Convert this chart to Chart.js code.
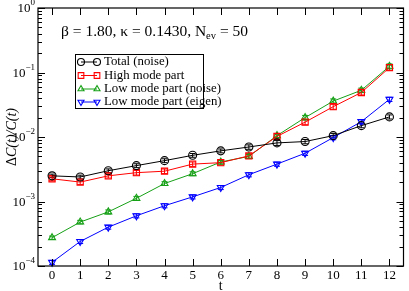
<!DOCTYPE html>
<html><head><meta charset="utf-8">
<script src="https://cdn.jsdelivr.net/npm/chart.js@4"></script>
<style>html,body{margin:0;padding:0;background:#fff}#wrap{width:409px;height:291px}</style>
</head><body><div id="wrap"><canvas id="c" width="409" height="291"></canvas></div>
<script>
const tValues = [0,1,2,3,4,5,6,7,8,9,10,11,12];
const xTickLabels = ['0','1','2','3','4','5','6','7','8','9','10','11','12'];
const yTickExponents = [0,-1,-2,-3,-4];
const seriesNames = ['Total (noise)','High mode part','Low mode part (noise)','Low mode part (eigen)'];
const totalNoise = [2.5e-3,2.4e-3,3.0e-3,3.6e-3,4.3e-3,5.2e-3,6.1e-3,7.0e-3,8.1e-3,8.5e-3,1.05e-2,1.5e-2,2.05e-2];
const totalNoiseErr = [1.6e-4,1.6e-4,2.0e-4,2.5e-4,3.0e-4,3.5e-4,4.2e-4,5.5e-4,7.0e-4,6.5e-4,8.0e-4,1.1e-3,1.5e-3];
const highMode = [2.25e-3,2.0e-3,2.5e-3,2.8e-3,2.95e-3,3.8e-3,4.0e-3,5.1e-3,1.02e-2,1.7e-2,2.95e-2,4.9e-2,0.119];
const highModeErr = [1.5e-4,1.6e-4,1.9e-4,2.3e-4,2.4e-4,3.0e-4,3.2e-4,4.2e-4,8.5e-4,1.5e-3,2.6e-3,4.2e-3,1.1e-2];
const lowNoise = [2.75e-4,4.8e-4,6.9e-4,1.12e-3,1.9e-3,2.7e-3,4.1e-3,5.0e-3,1.05e-2,2.0e-2,3.6e-2,5.3e-2,0.125];
const lowNoiseErr = [1.6e-5,3.0e-5,5.0e-5,8.0e-5,1.3e-4,1.9e-4,2.9e-4,3.6e-4,8.0e-4,1.6e-3,2.9e-3,4.3e-3,1.1e-2];
const lowEigen = [1.14e-4,2.4e-4,4.0e-4,6.0e-4,8.6e-4,1.18e-3,1.65e-3,2.6e-3,3.8e-3,5.6e-3,9.8e-3,1.73e-2,3.84e-2];
const lowEigenErr = [8e-6,1.7e-5,2.8e-5,4.3e-5,6.2e-5,8.5e-5,1.2e-4,1.9e-4,2.8e-4,4.2e-4,7.4e-4,1.3e-3,2.9e-3];

const colors = ['#000000','#ff0000','#16a016','#0000ff'];
const styles = ['circle','rect','triangle','triangle'];
const rotations = [0,0,0,180];
const values = [totalNoise, highMode, lowNoise, lowEigen];
const errs = [totalNoiseErr, highModeErr, lowNoiseErr, lowEigenErr];

const datasets = values.map((v,i)=>({
  label: seriesNames[i],
  data: tValues.map((t,j)=>({x:t,y:v[j]})),
  borderColor: colors[i],
  backgroundColor: 'rgba(0,0,0,0)',
  borderWidth: 1,
  pointStyle: styles[i],
  rotation: rotations[i],
  pointRadius: i===1 ? 4.4 : 4,
  pointBorderWidth: 1.1,
  pointBorderColor: colors[i],
  pointBackgroundColor: 'rgba(0,0,0,0)',
  tension: 0,
  clip: false
}));

function supText(ctx, base, sup, xRight, y, size){
  const supSize = Math.round(size*0.68);
  ctx.font = supSize+'px "Liberation Serif"';
  const ws = ctx.measureText(sup).width;
  ctx.font = size+'px "Liberation Serif"';
  const wb = ctx.measureText(base).width;
  ctx.textAlign='left'; ctx.textBaseline='middle';
  ctx.fillText(base, xRight-ws-wb, y);
  ctx.font = supSize+'px "Liberation Serif"';
  ctx.fillText(sup, xRight-ws, y-6);
}

function drawMarker(ctx, style, rot, x, y, r){
  Chart.helpers.drawPoint(ctx, {pointStyle: style, rotation: rot, radius: r, borderWidth: 1.1}, x, y);
}

const deco = {
  id:'deco',
  beforeDatasetsDraw(chart){
    const ctx = chart.ctx, xs = chart.scales.x, ys = chart.scales.y;
    ctx.save();
    values.forEach((v,i)=>{
      ctx.strokeStyle = colors[i]; ctx.lineWidth = 1;
      v.forEach((val,j)=>{
        const x = xs.getPixelForValue(tValues[j]);
        const y1 = ys.getPixelForValue(val+errs[i][j]);
        const y2 = ys.getPixelForValue(val-errs[i][j]);
        ctx.beginPath();
        ctx.moveTo(x,y1); ctx.lineTo(x,y2);
        ctx.moveTo(x-3,y1); ctx.lineTo(x+3,y1);
        ctx.moveTo(x-3,y2); ctx.lineTo(x+3,y2);
        ctx.stroke();
      });
    });
    ctx.restore();
  },
  afterDraw(chart){
    const ctx = chart.ctx, xs = chart.scales.x, ys = chart.scales.y, a = chart.chartArea;
    ctx.save();
    ctx.strokeStyle = '#000'; ctx.lineWidth = 1.2;
    ctx.strokeRect(a.left, a.top, a.right-a.left, a.bottom-a.top);
    ctx.lineWidth = 1;
    ctx.beginPath();
    tValues.forEach(t=>{
      const x = Math.round(xs.getPixelForValue(t))+0.5;
      ctx.moveTo(x,a.bottom); ctx.lineTo(x,a.bottom-7);
      ctx.moveTo(x,a.top); ctx.lineTo(x,a.top+7);
    });
    for(let e=-4;e<=0;e++){
      const y = Math.round(ys.getPixelForValue(Math.pow(10,e)))+0.5;
      ctx.moveTo(a.left,y); ctx.lineTo(a.left+7,y);
      ctx.moveTo(a.right,y); ctx.lineTo(a.right-7,y);
      if(e<0){
        for(let m=2;m<=9;m++){
          const ym = Math.round(ys.getPixelForValue(m*Math.pow(10,e)))+0.5;
          ctx.moveTo(a.left,ym); ctx.lineTo(a.left+4,ym);
          ctx.moveTo(a.right,ym); ctx.lineTo(a.right-4,ym);
        }
      }
    }
    ctx.stroke();
    ctx.fillStyle = '#000';
    ctx.font = '13px "Liberation Serif"';
    ctx.textAlign='center'; ctx.textBaseline='middle';
    tValues.forEach((t,i)=>{
      ctx.fillText(xTickLabels[i], xs.getPixelForValue(t), a.bottom+10);
    });
    yTickExponents.forEach(e=>{
      const y = ys.getPixelForValue(Math.pow(10,e));
      supText(ctx, '10', String(e).replace('-','\u2212'), a.left-3, y+1, 13);
    });
    ctx.font = '14px "Liberation Serif"';
    ctx.textAlign='center'; ctx.textBaseline='middle';
    ctx.fillText('t', (a.left+a.right)/2, a.bottom+20);
    ctx.save();
    ctx.translate(12, (a.top+a.bottom)/2);
    ctx.rotate(-Math.PI/2);
    const p1 = '\u0394', p2 = 'C(t)/C(t)';
    ctx.font = '14px "Liberation Serif"'; const w1 = ctx.measureText(p1).width;
    ctx.font = 'italic 14px "Liberation Serif"'; const w2 = ctx.measureText(p2).width;
    ctx.textAlign='left';
    ctx.font = '14px "Liberation Serif"'; ctx.fillText(p1, -(w1+w2)/2, 0);
    ctx.font = 'italic 14px "Liberation Serif"'; ctx.fillText(p2, -(w1+w2)/2+w1, 0);
    ctx.restore();
    ctx.textAlign='left'; ctx.textBaseline='alphabetic';
    ctx.font = '15.5px "Liberation Serif"';
    let tx = 61; const ty = 36;
    const s1 = '\u03b2 = 1.80, \u03ba = 0.1430, N';
    ctx.fillText(s1, tx, ty); tx += ctx.measureText(s1).width;
    ctx.font = '10.5px "Liberation Serif"';
    ctx.fillText('ev', tx, ty+3); tx += ctx.measureText('ev').width;
    ctx.font = '15.5px "Liberation Serif"';
    ctx.fillText(' = 50', tx, ty);
    ctx.fillStyle='#fff';
    ctx.fillRect(75.5,54.5,128,54);
    ctx.strokeStyle='#000'; ctx.lineWidth=1;
    ctx.strokeRect(75.5,54.5,128,54);
    const rowsY = [62,75.5,89,102];
    seriesNames.forEach((n,i)=>{
      const y = rowsY[i];
      ctx.strokeStyle = colors[i]; ctx.lineWidth=1;
      ctx.beginPath(); ctx.moveTo(81,y); ctx.lineTo(97,y); ctx.stroke();
      ctx.fillStyle='rgba(0,0,0,0)';
      ctx.lineWidth=1.1;
      const r = i===1?4:3.5;
      drawMarker(ctx, styles[i], rotations[i], 81, y, r);
      drawMarker(ctx, styles[i], rotations[i], 97, y, r);
      ctx.fillStyle='#000';
      ctx.font='12.8px "Liberation Serif"';
      ctx.textBaseline='middle'; ctx.textAlign='left';
      ctx.fillText(n, 104, y);
    });
    ctx.restore();
  }
};

new Chart(document.getElementById('c'), {
  type:'line',
  data:{datasets},
  options:{
    responsive:false, animation:false, devicePixelRatio:1,
    layout:{padding:{left:38,top:8,right:2,bottom:25}},
    plugins:{legend:{display:false}, tooltip:{enabled:false}},
    scales:{
      x:{type:'linear', min:-0.5, max:12.5, display:false},
      y:{type:'logarithmic', min:1e-4, max:1, display:false}
    }
  },
  plugins:[deco]
});
</script></body></html>
